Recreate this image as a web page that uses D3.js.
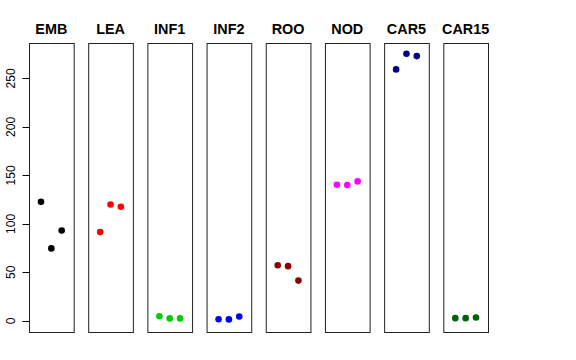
<!DOCTYPE html>
<html lang="en">
<head>
<meta charset="UTF-8">
<title>Panels</title>
<script src="https://d3js.org/d3.v7.min.js"></script>
<style>
  body { margin: 0; background: #fff; }
  svg { display: block; font-family: "Liberation Sans", Arial, sans-serif; }
  .title { font-size: 14.4px; font-weight: bold; text-anchor: middle; }
  .tick-label { font-size: 12px; text-anchor: middle; }
</style>
</head>
<body>
<svg id="chart"></svg>
<script>
// groups and their replicate values
const groups = ["EMB", "LEA", "INF1", "INF2", "ROO", "NOD", "CAR5", "CAR15"];
const colors = ["#000000", "#ff0000", "#00cd00", "#0000ff", "#8b0000", "#ff00ff", "#00008b", "#006400"];
const EMB = [122.7, 74.7, 93.2];
const LEA = [91.5, 120, 117.6];
const INF1 = [4.8, 2.5, 2.5];
const INF2 = [1.7, 1.5, 4.5];
const ROO = [57.4, 56.4, 41.5];
const NOD = [140.3, 140, 143.8];
const CAR5 = [259.3, 275.4, 273];
const CAR15 = [2.8, 2.8, 3.5];
const values = [EMB, LEA, INF1, INF2, ROO, NOD, CAR5, CAR15];
const yTicks = [0, 50, 100, 150, 200, 250];

const W = 576, H = 360;
const plotTop = 43, plotBottom = 332;

const svg = d3.select("#chart").attr("width", W).attr("height", H);

const panel = d3.scaleBand()
    .domain(groups)
    .range([29, 488])
    .paddingInner(0.245)
    .paddingOuter(0);

const y = d3.scaleLinear()
    .domain([-11.5, 286.5])
    .range([plotBottom, plotTop]);

// replicate position inside a panel (xlim 0..4, R style 4% padding)
const x = d3.scaleLinear()
    .domain([-0.16, 4.16])
    .range([0, panel.bandwidth()]);

groups.forEach((g, i) => {
    const gx = panel(g);
    const p = svg.append("g").attr("transform", `translate(${gx},0)`);

    p.append("rect")
        .attr("x", 0.5)
        .attr("y", plotTop + 0.5)
        .attr("width", panel.bandwidth())
        .attr("height", plotBottom - plotTop)
        .attr("fill", "none")
        .attr("stroke", "#222")
        .attr("stroke-width", 1);

    p.append("text")
        .attr("class", "title")
        .attr("x", panel.bandwidth() / 2)
        .attr("y", 34)
        .text(g);

    p.selectAll("circle")
        .data(values[i])
        .enter()
        .append("circle")
        .attr("cx", (d, j) => x(j + 1))
        .attr("cy", d => y(d))
        .attr("r", 3.3)
        .attr("fill", colors[i]);
});

// y axis on the first panel
const axisX = panel(groups[0]) + 0.5;
const ax = svg.append("g");
ax.selectAll("line")
    .data(yTicks)
    .enter()
    .append("line")
    .attr("x1", axisX - 7)
    .attr("x2", axisX)
    .attr("y1", d => Math.round(y(d)) + 0.5)
    .attr("y2", d => Math.round(y(d)) + 0.5)
    .attr("stroke", "#000");

ax.selectAll("text")
    .data(yTicks)
    .enter()
    .append("text")
    .attr("class", "tick-label")
    .attr("transform", d => `translate(15,${y(d)}) rotate(-90)`)
    .text(d => d);
</script>
</body>
</html>
